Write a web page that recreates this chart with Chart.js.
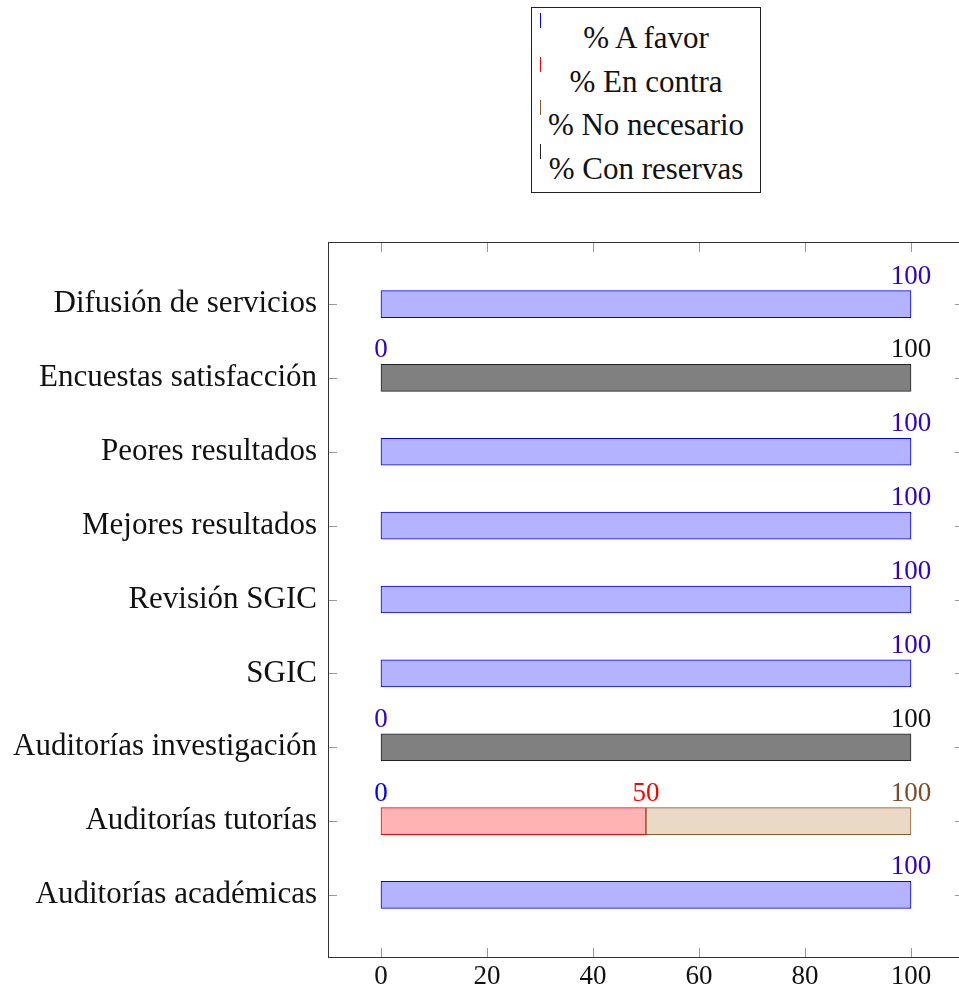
<!DOCTYPE html>
<html>
<head>
<meta charset="utf-8">
<script src="https://cdn.jsdelivr.net/npm/chart.js@4.4.1/dist/chart.umd.min.js"></script>
<style>
  body { margin: 0; background: #fff; overflow: hidden; width: 959px; height: 987px; position: relative; }
  #chart { position: absolute; left: 0; top: 0; }
  #legend {
    position: absolute; left: 531px; top: 7px; width: 228px; height: 184px;
    border: 1px solid #222; background: #fff;
    font-family: "Liberation Serif", serif; font-size: 31px; color: #111;
  }
  .row { position: absolute; left: 0; width: 100%; text-align: center; line-height: 32px; }
  .mark { position: absolute; left: 8px; width: 1px; height: 15px; }
</style>
</head>
<body>
<canvas id="chart" width="966" height="987"></canvas>
<div id="legend"></div>
<script>
// categories, bottom to top
const categories = ['Auditorías académicas', 'Auditorías tutorías', 'Auditorías investigación', 'SGIC',
    'Revisión SGIC', 'Mejores resultados', 'Peores resultados', 'Encuestas satisfacción', 'Difusión de servicios'];
const seriesNames = ['% A favor', '% En contra', '% No necesario', '% Con reservas'];
const aFavor      = [100, 0,   0, 100, 100, 100, 100,   0, 100];
const enContra    = [  0, 50,  0,   0,   0,   0,   0,   0,   0];
const noNecesario = [  0, 50,  0,   0,   0,   0,   0,   0,   0];
const conReservas = [  0, 0, 100,   0,   0,   0,   0, 100,   0];
const xTicks = [0, 20, 40, 60, 80, 100];

const lines = ['#0000ff', '#ff0000', '#8a5a2e', '#222222'];
const fills = ['#b3b3ff', '#ffb3b3', '#ead9c5', '#808080'];
const labelColors = ['#0000ff', '#ff0000', '#7a4e28', '#111111'];
const allSeries = [aFavor, enContra, noNecesario, conReservas];

// legend (html, real text)
const legend = document.getElementById('legend');
seriesNames.forEach((name, k) => {
    const row = document.createElement('div');
    row.className = 'row';
    row.style.top = (14 + k * 43.5) + 'px';
    row.textContent = name;
    legend.appendChild(row);
    const m = document.createElement('div');
    m.className = 'mark';
    m.style.top = (5 + k * 43.5) + 'px';
    m.style.background = lines[k];
    legend.appendChild(m);
});

const numFont = '27px "Liberation Serif", serif';

const framePlugin = {
    id: 'frame',
    afterDraw(chart) {
        const ctx = chart.ctx;
        const a = chart.chartArea;
        const xs = chart.scales.x, ys = chart.scales.y;
        ctx.save();
        ctx.strokeStyle = '#999';
        ctx.lineWidth = 1;
        ctx.beginPath();
        xTicks.forEach(v => {
            const px = Math.round(xs.getPixelForValue(v)) + 0.5;
            ctx.moveTo(px, a.bottom); ctx.lineTo(px, a.bottom - 9);
            ctx.moveTo(px, a.top); ctx.lineTo(px, a.top + 10);
        });
        categories.forEach((c, i) => {
            const py = Math.round(ys.getPixelForValue(i)) + 0.5;
            ctx.moveTo(a.left, py); ctx.lineTo(a.left + 9, py);
            ctx.moveTo(a.right, py); ctx.lineTo(a.right - 9, py);
        });
        ctx.stroke();
        ctx.strokeStyle = '#333';
        ctx.strokeRect(Math.round(a.left) + 0.5, Math.round(a.top) + 0.5, a.right - a.left, a.bottom - a.top);

        // value labels at the end of each stacked segment
        ctx.font = numFont;
        ctx.textAlign = 'center';
        ctx.textBaseline = 'alphabetic';
        categories.forEach((c, i) => {
            let sum = 0;
            const groups = [];
            allSeries.forEach((s, k) => {
                sum += s[i];
                const last = groups[groups.length - 1];
                if (last && last.end === sum) last.members.push(k);
                else groups.push({end: sum, members: [k]});
            });
            const top = ys.getPixelForValue(i) - 13.5;
            groups.forEach(g => {
                const first = g.members[0];
                let col = labelColors[first];
                if (first === 0 && g.members.length > 1) col = '#3000cc';
                ctx.fillStyle = col;
                ctx.fillText(String(g.end), xs.getPixelForValue(g.end), top - 7);
            });
        });
        ctx.restore();
    }
};

new Chart(document.getElementById('chart'), {
    type: 'bar',
    data: {
        datasets: allSeries.map((s, k) => ({
            label: seriesNames[k],
            data: s.map((v, i) => ({x: v, y: i})),
            backgroundColor: fills[k],
            borderColor: lines[k],
            borderWidth: 1,
            borderSkipped: false,
            barThickness: 27
        }))
    },
    options: {
        indexAxis: 'y',
        responsive: false,
        animation: false,
        layout: {padding: {left: 0, right: 2, top: 242, bottom: 0}},
        plugins: {legend: {display: false}, tooltip: {enabled: false}},
        scales: {
            x: {
                type: 'linear', stacked: true, min: -10, max: 110,
                afterBuildTicks: sc => { sc.ticks = xTicks.map(v => ({value: v})); },
                afterFit: sc => { sc.height = 30; },
                grid: {display: false, drawTicks: false},
                border: {display: false},
                ticks: {padding: 4, color: '#111', font: {family: 'Liberation Serif', size: 27}}
            },
            y: {
                type: 'linear', stacked: true, min: -0.84, max: 8.84, offset: false,
                afterBuildTicks: sc => { sc.ticks = categories.map((c, i) => ({value: i})); },
                afterFit: sc => { sc.width = 328; },
                grid: {display: false, drawTicks: false, offset: false},
                border: {display: false},
                ticks: {
                    padding: 11, color: '#111', font: {family: 'Liberation Serif', size: 31},
                    callback: v => categories[v]
                }
            }
        }
    },
    plugins: [framePlugin]
});
</script>
</body>
</html>
